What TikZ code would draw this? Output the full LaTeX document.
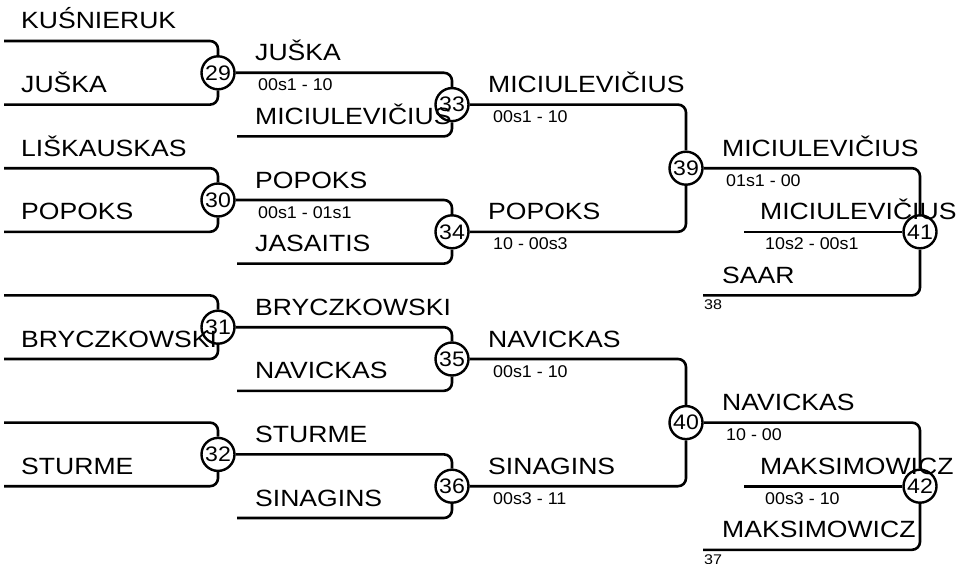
\documentclass[tikz,border=0pt]{standalone}
\usepackage{fontspec}
\setmainfont{Liberation Sans}
\usepackage{graphicx}
\usetikzlibrary{positioning}
% row k of the bracket, in px from the top
\newcommand{\rowy}[1]{41+31.8*(#1)}
\tikzset{
  bout/.style={
    draw=black,
    line width=2.4pt,
    circle,
    minimum size=33pt,
    inner sep=0pt,
    fill=white,
    font=\fontsize{21}{22}\selectfont
  },
  wire/.style={draw=black, line width=2.6pt, rounded corners=8pt},
  pname/.style={font=\fontsize{23.5}{26}\selectfont, inner sep=0pt, anchor=base west, xscale=1.13},
  pscore/.style={font=\fontsize{17}{19}\selectfont, inner sep=0pt, anchor=base west, xscale=1.05},
  pseed/.style={font=\fontsize{14}{16}\selectfont, inner sep=0pt, anchor=base west, xscale=1.15},
}
\newcommand{\Bout}[3]{%
  \node[bout] (m#1) at (#2,{\rowy{#3}}) {\scalebox{1.1}[1]{#1}};
}

\begin{document}
\begin{tikzpicture}[x=1pt, y=-1pt]
  \useasboundingbox (0,0) rectangle (957,564);
  % bouts
  \foreach \n/\k in {29/1,30/5,31/9,32/13} {\Bout{\n}{218}{\k}}
  \foreach \n/\k in {33/2,34/6,35/10,36/14} {\Bout{\n}{452}{\k}}
  \Bout{39}{686}{4}
  \Bout{40}{686}{12}
  \Bout{41}{920}{6}
  \Bout{42}{920}{14}

  % first round
  \foreach \n/\k in {29/1,30/5,31/9,32/13} {
    \coordinate (r\n t) at (4,{\rowy{\k-1}});
    \coordinate (r\n b) at (4,{\rowy{\k+1}});
    \draw[wire] (r\n t) -| (m\n);
    \draw[wire] (r\n b) -| (m\n);
  }
  % second round, byes enter from the left
  \foreach \a/\n/\k in {29/33/2,30/34/6,31/35/10,32/36/14} {
    \coordinate (r\n b) at (237,{\rowy{\k+1}});
    \draw[wire] (m\a) -| (m\n);
    \draw[wire] (r\n b) -| (m\n);
  }
  \draw[wire] (m33) -| (m39);
  \draw[wire] (m34) -| (m39);
  \draw[wire] (m35) -| (m40);
  \draw[wire] (m36) -| (m40);
  % finals
  \coordinate (f41i) at (744,{\rowy{6}});
  \coordinate (f41b) at (703,{\rowy{8}});
  \coordinate (f42i) at (744,{\rowy{14}});
  \coordinate (f42b) at (703,{\rowy{16}});
  \draw[wire] (m39) -| (m41);
  \draw[wire] (f41i) -- (m41);
  \draw[wire] (f41b) -| (m41);
  \draw[wire] (m40) -| (m42);
  \draw[wire] (f42i) -- (m42);
  \draw[wire] (f42b) -| (m42);

  % names
  \foreach \t/\x/\k [count=\i] in {
      KUŚNIERUK/21/0, JUŠKA/21/2, LIŠKAUSKAS/21/4, POPOKS/21/6,
      BRYCZKOWSKI/21/10, STURME/21/14,
      JUŠKA/255/1, MICIULEVIČIUS/255/3, POPOKS/255/5, JASAITIS/255/7,
      BRYCZKOWSKI/255/9, NAVICKAS/255/11, STURME/255/13, SINAGINS/255/15,
      MICIULEVIČIUS/488/2, POPOKS/488/6, NAVICKAS/488/10, SINAGINS/488/14,
      MICIULEVIČIUS/722/4, SAAR/722/8, NAVICKAS/722/12, MAKSIMOWICZ/722/16,
      MICIULEVIČIUS/760/6, MAKSIMOWICZ/760/14}
    \node[pname] (nm\i) at (\x,{\rowy{\k}-12}) {\t};
  % scores
  \foreach \t/\x/\k [count=\i] in {
      00s1 - 10/258/1, 00s1 - 01s1/258/5,
      00s1 - 10/493/2, 10 - 00s3/493/6, 00s1 - 10/493/10, 00s3 - 11/493/14,
      01s1 - 00/726/4, 10s2 - 00s1/765/6, 10 - 00/726/12, 00s3 - 10/765/14}
    \node[pscore] (sc\i) at (\x,{\rowy{\k}+18}) {\t};
  % seeds of the losers
  \node[pseed] (sd38) at (704,{\rowy{8}+14.5}) {38};
  \node[pseed] (sd37) at (704,{\rowy{16}+14.5}) {37};
\end{tikzpicture}
\end{document}
